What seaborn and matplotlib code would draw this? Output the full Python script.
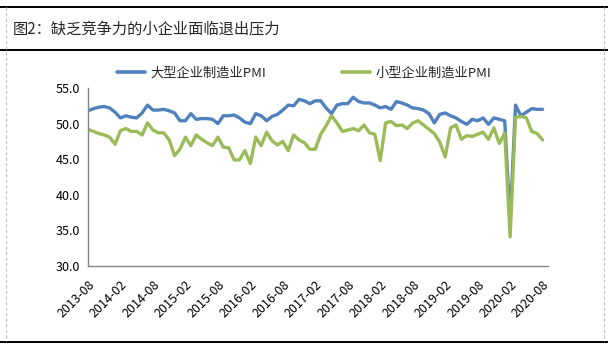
import numpy as np
import pandas as pd
import matplotlib
matplotlib.use("Agg")
import matplotlib.pyplot as plt
import seaborn as sns
from matplotlib.lines import Line2D

# ---------------- data ----------------
months = pd.date_range("2013-08-01", "2020-08-01", freq="MS").strftime("%Y-%m").tolist()

large_pmi = [
    51.8, 52.1, 52.3, 52.4, 52.2, 51.6, 50.8, 51.1, 50.9, 50.8,
    51.5, 52.6, 51.9, 51.9, 52.0, 51.8, 51.5, 50.4, 50.4, 51.4,
    50.6, 50.7, 50.7, 50.6, 50.0, 51.1, 51.1, 51.2, 50.8, 50.2,
    50.0, 51.4, 51.1, 50.4, 51.0, 51.3, 51.9, 52.6, 52.5, 53.4,
    53.2, 52.8, 53.2, 53.2, 52.2, 51.4, 52.6, 52.8, 52.8, 53.7,
    53.1, 52.9, 52.9, 52.6, 52.2, 52.4, 52.0, 53.1, 52.9, 52.6,
    52.2, 52.1, 51.9, 51.4, 50.1, 51.3, 51.5, 51.1, 50.8, 50.3,
    49.9, 50.6, 50.4, 50.8, 49.9, 50.8, 50.6, 50.4, 36.3, 52.6,
    51.1, 51.6, 52.1, 52.0, 52.0,
]
small_pmi = [
    49.2, 48.9, 48.6, 48.4, 48.1, 47.1, 49.0, 49.3, 48.9, 48.9,
    48.4, 50.1, 49.1, 48.7, 48.7, 47.7, 45.5, 46.4, 48.1, 46.9,
    48.4, 47.8, 47.3, 46.9, 48.1, 46.7, 46.6, 44.9, 44.9, 46.2,
    44.4, 48.1, 46.9, 48.8, 47.6, 47.0, 47.5, 46.2, 48.4, 47.7,
    47.3, 46.4, 46.4, 48.5, 49.7, 51.1, 50.1, 48.9, 49.1, 49.3,
    49.0, 49.8, 48.7, 48.5, 44.8, 50.1, 50.3, 49.7, 49.8, 49.3,
    50.1, 50.4, 49.8, 49.2, 48.6, 47.4, 45.3, 49.4, 49.8, 47.8,
    48.3, 48.2, 48.5, 48.8, 47.8, 49.4, 47.2, 48.7, 34.1, 50.9,
    51.0, 50.8, 48.9, 48.6, 47.7,
]
series_names = ["大型企业制造业PMI", "小型企业制造业PMI"]
tick_labels = ["2013-08", "2014-02", "2014-08", "2015-02", "2015-08",
               "2016-02", "2016-08", "2017-02", "2017-08", "2018-02",
               "2018-08", "2019-02", "2019-08", "2020-02", "2020-08"]
y_ticks = [30, 35, 40, 45, 50, 55]
title_text = "图2：缺乏竞争力的小企业面临退出压力"

colors = ["#4F81BD", "#9BBB59"]

# ---------------- build frame ----------------
n = len(months)
df = pd.DataFrame({
    "pos": list(range(n)) * 2,
    "value": large_pmi + small_pmi,
    "series": [series_names[0]] * n + [series_names[1]] * n,
})

sns.set_theme(style="white")
plt.rcParams["font.family"] = ["Noto Sans CJK SC", "DejaVu Sans"]

W, H = 608, 344
fig = plt.figure(figsize=(W / 100, H / 100), dpi=100)
fig.patch.set_facecolor("white")

L, R, T, B = 88, 548, 88, 266
ax = fig.add_axes([L / W, 1 - B / H, (R - L) / W, (B - T) / H])

sns.lineplot(data=df, x="pos", y="value", hue="series", hue_order=series_names,
             palette=colors, linewidth=2.4, ax=ax, legend=False)
for ln in ax.lines:
    ln.set_solid_joinstyle("round")
    ln.set_solid_capstyle("round")

ax.set_xlim(0, n)
ax.set_ylim(30, 55)
ax.set_xlabel("")
ax.set_ylabel("")

tick_pos = [months.index(t) for t in tick_labels]
ax.set_xticks(tick_pos)
ax.set_xticklabels(tick_labels, rotation=45, ha="right", va="top",
                   rotation_mode="anchor", fontsize=9)
ax.set_yticks(y_ticks)
ax.set_yticklabels([f"{v:.1f}" for v in y_ticks], fontsize=9)

for side in ["top", "right"]:
    ax.spines[side].set_visible(False)
for side in ["left", "bottom"]:
    ax.spines[side].set_color("#868686")
    ax.spines[side].set_linewidth(1.0)
ax.tick_params(axis="both", which="major", direction="out", length=4,
               width=1, color="#868686", labelcolor="black")
ax.tick_params(axis="x", pad=5)
ax.tick_params(axis="y", pad=2)

# legend
handles = [Line2D([0], [0], color=c, lw=2.6) for c in colors]
fig.legend(handles, series_names, loc="center", bbox_to_anchor=(0.5, 1 - 73 / H),
           ncol=2, frameon=False, fontsize=9.5, handlelength=2.1,
           handletextpad=0.4, columnspacing=5.8)

# title and frame
fig.text(13 / W, 1 - 29 / H, title_text, fontsize=11, va="center", ha="left")
fig.add_artist(Line2D([0, 1], [1 - 7 / H] * 2, color="black", lw=1.4,
                      transform=fig.transFigure))
fig.add_artist(Line2D([0, 1], [1 - 50 / H] * 2, color="black", lw=1.4,
                      transform=fig.transFigure))
fig.add_artist(Line2D([0, 1], [1 - 341.5 / H] * 2, color="black", lw=1.4,
                      transform=fig.transFigure))
for xv in (6, 604):
    fig.add_artist(Line2D([xv / W] * 2, [1 - 7 / H, 1 - 341 / H], color="#BFBFBF",
                          lw=0.8, linestyle=(0, (3, 2)), transform=fig.transFigure))

fig.savefig("out.png", dpi=100)
